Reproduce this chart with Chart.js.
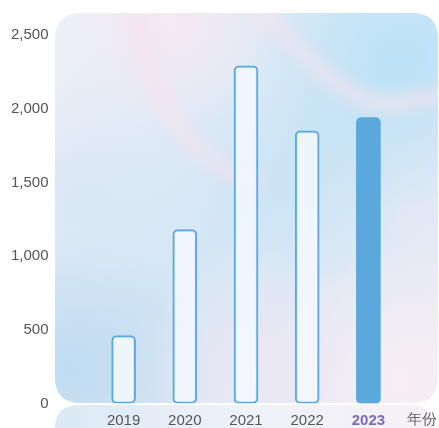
<!DOCTYPE html>
<html>
<head>
<meta charset="utf-8">
<script src="https://cdn.jsdelivr.net/npm/chart.js@4/dist/chart.umd.min.js"></script>
<style>
  html, body { margin: 0; padding: 0; background: #ffffff; }
  #wrap { width: 439px; height: 428px; }
</style>
</head>
<body>
<div id="wrap"><canvas id="grafico" width="439" height="428"></canvas></div>
<script>
// datos del grafico
const years = ['2019', '2020', '2021', '2022', '2023'];
const values = [460, 1180, 2290, 1850, 1940];
const yTicks = [0, 500, 1000, 1500, 2000, 2500];
const xAxisName = '年份';
const highlightIndex = 4;

const fontFamily = '"Liberation Sans", Arial, sans-serif';

function roundRect(ctx, x, y, w, h, r) {
    ctx.beginPath();
    ctx.moveTo(x + r, y);
    ctx.lineTo(x + w - r, y);
    ctx.quadraticCurveTo(x + w, y, x + w, y + r);
    ctx.lineTo(x + w, y + h - r);
    ctx.quadraticCurveTo(x + w, y + h, x + w - r, y + h);
    ctx.lineTo(x + r, y + h);
    ctx.quadraticCurveTo(x, y + h, x, y + h - r);
    ctx.lineTo(x, y + r);
    ctx.quadraticCurveTo(x, y, x + r, y);
    ctx.closePath();
}

function blob(ctx, x, y, r, color) {
    const g = ctx.createRadialGradient(x, y, 0, x, y, r);
    g.addColorStop(0, color);
    g.addColorStop(1, color.replace(/[\d.]+\)$/, '0)'));
    ctx.fillStyle = g;
    ctx.fillRect(0, 0, 439, 428);
}

// fondo difuminado con esquinas redondeadas
const fondoPlugin = {
    id: 'fondo',
    beforeDraw(chart) {
        const ctx = chart.ctx;
        ctx.save();

        // franja inferior detras de las etiquetas
        roundRect(ctx, 55, 405, 379, 60, 24);
        ctx.clip();
        const gb = ctx.createLinearGradient(55, 0, 434, 0);
        gb.addColorStop(0, '#dbe9f6');
        gb.addColorStop(0.5, '#eef2f9');
        gb.addColorStop(1, '#f6f1f6');
        ctx.fillStyle = gb;
        ctx.fillRect(0, 0, 439, 428);
        ctx.restore();

        ctx.save();
        roundRect(ctx, 55, 13, 383, 390, 26);
        ctx.clip();
        const g = ctx.createLinearGradient(55, 13, 438, 403);
        g.addColorStop(0, '#eef0f8');
        g.addColorStop(0.5, '#d4e6f5');
        g.addColorStop(1, '#f2ecf4');
        ctx.fillStyle = g;
        ctx.fillRect(0, 0, 439, 428);
        blob(ctx, 400, 60, 150, 'rgba(184, 226, 247, 0.9)');
        blob(ctx, 300, 180, 110, 'rgba(196, 228, 246, 0.7)');
        blob(ctx, 70, 370, 140, 'rgba(190, 218, 240, 0.9)');
        blob(ctx, 80, 200, 90, 'rgba(214, 228, 244, 0.6)');
        blob(ctx, 170, 20, 110, 'rgba(248, 232, 242, 0.9)');
        blob(ctx, 400, 380, 130, 'rgba(248, 238, 244, 0.9)');
        blob(ctx, 260, 360, 110, 'rgba(238, 230, 242, 0.7)');

        // vetas rosadas difuminadas
        ctx.filter = 'blur(8px)';
        ctx.strokeStyle = 'rgba(246, 226, 238, 0.8)';
        ctx.lineWidth = 14;
        ctx.beginPath();
        ctx.moveTo(135, 5);
        ctx.bezierCurveTo(150, 110, 190, 160, 260, 185);
        ctx.stroke();
        ctx.beginPath();
        ctx.moveTo(250, 5);
        ctx.bezierCurveTo(300, 40, 330, 100, 390, 105);
        ctx.lineTo(445, 95);
        ctx.stroke();
        ctx.filter = 'none';
        ctx.restore();
    },
    afterDraw(chart) {
        const ctx = chart.ctx;
        const xs = chart.scales.x;
        ctx.save();
        ctx.font = '15px ' + fontFamily;
        ctx.fillStyle = '#666666';
        ctx.textAlign = 'center';
        ctx.textBaseline = 'top';
        ctx.fillText(xAxisName, 422, xs.top + 9);
        ctx.restore();
    }
};

const ctx = document.getElementById('grafico').getContext('2d');
const grafico = new Chart(ctx, {
    type: 'bar',
    data: {
        labels: years,
        datasets: [{
            data: values,
            backgroundColor: values.map((v, i) => i === highlightIndex ? '#5ba8dc' : 'rgba(244, 248, 253, 0.85)'),
            borderColor: '#5aa9df',
            borderWidth: values.map((v, i) => i === highlightIndex ? 0 : 2),
            borderRadius: 5,
            borderSkipped: false,
            barThickness: 24
        }]
    },
    options: {
        responsive: false,
        animation: false,
        layout: { padding: { top: 35, right: 40, bottom: 0, left: 0 } },
        plugins: {
            legend: { display: false },
            tooltip: { enabled: false }
        },
        scales: {
            x: {
                grid: { display: false, drawTicks: false },
                border: { display: false },
                afterFit(scale) { scale.height = 24.5; },
                ticks: {
                    padding: 8,
                    color: (c) => c.index === highlightIndex ? '#7b6cb8' : '#555555',
                    font: (c) => ({
                        family: fontFamily,
                        size: 15,
                        weight: c.index === highlightIndex ? 'bold' : 'normal'
                    })
                }
            },
            y: {
                min: 0,
                max: 2500,
                grid: { display: false, drawTicks: false },
                border: { display: false },
                afterFit(scale) {
                    scale.width = 93;
                    scale.paddingTop = 9;
                    scale.paddingBottom = 9;
                },
                afterBuildTicks(scale) { scale.ticks = yTicks.map(v => ({ value: v })); },
                ticks: {
                    padding: 44.5,
                    color: '#555555',
                    font: { family: fontFamily, size: 15 },
                    callback: (v) => v.toLocaleString('en-US')
                }
            }
        }
    },
    plugins: [fondoPlugin]
});
</script>
</body>
</html>
